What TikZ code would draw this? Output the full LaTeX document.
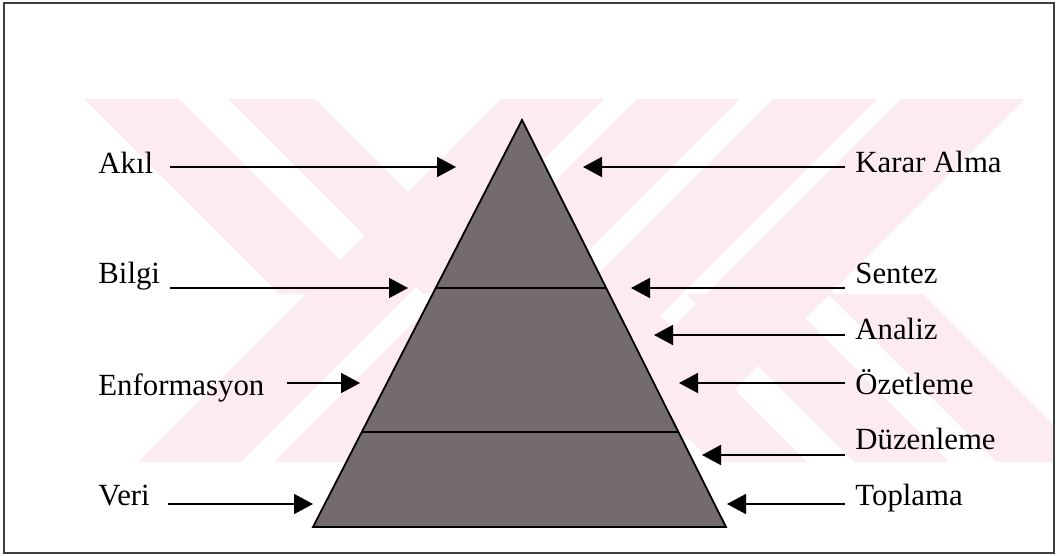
\documentclass[tikz,border=0pt]{standalone}
\usepackage{fontspec}
\setmainfont{Liberation Serif}
\usetikzlibrary{arrows.meta,calc}
\definecolor{wmpink}{RGB}{253,236,239}
\definecolor{pyrgray}{RGB}{116,107,110}
\tikzset{
  lbl/.style={anchor=base west, inner sep=0pt, font=\fontsize{15.4}{18}\selectfont},
  arr/.style={line width=0.85pt, -{Triangle[length=9.5pt,width=10pt]}},
}
\begin{document}
\begin{tikzpicture}[x=0.5pt,y=-0.5pt]
\useasboundingbox (0,0) rectangle (1061,556);
% watermark
\begin{scope}
\clip (0,99) rectangle (1053,462);
\foreach \a/\b in {600/703,736/839,872/976,1000/1124}
  \fill[wmpink] (\a-99,99) -- (\b-99,99) -- (\b-462,462) -- (\a-462,462) -- cycle;
\foreach \a/\b in {-15/80,129/216}
  \fill[wmpink] (\a+99,99) -- (\b+99,99) -- (\b+294,294) -- (\a+294,294) -- cycle;
\foreach \a/\b in {250/345,392/487,534/629}
  \fill[wmpink] (\a+294,294) -- (\b+294,294) -- (\b+462,462) -- (\a+462,462) -- cycle;
\end{scope}
\draw[line width=0.8pt, black!75] (4,3) rectangle (1054,553);

% pyramid
\coordinate (apex) at (522,120);
\coordinate (bl) at (313,527);
\coordinate (br) at (726,527);
\draw[fill=pyrgray, line width=0.9pt] (apex) -- (bl) -- (br) -- cycle;
\draw[line width=0.7pt] ($(apex)!0.4128!(bl)$) -- ($(apex)!0.4128!(br)$);
\draw[line width=0.7pt] ($(apex)!0.7666!(bl)$) -- ($(apex)!0.7666!(br)$);

\node[lbl] (akil) at (98,174) {Akıl};
\node[lbl] (bilgi) at (98,284) {Bilgi};
\node[lbl] (enf) at (98,395) {Enformasyon};
\node[lbl] (veri) at (98,505) {Veri};
\node[lbl] (karar) at (855,173) {Karar Alma};
\node[lbl] (sentez) at (855,284) {Sentez};
\node[lbl] (analiz) at (855,339) {Analiz};
\node[lbl] (ozet) at (855,394) {Özetleme};
\node[lbl] (duzen) at (855,449) {Düzenleme};
\node[lbl] (topla) at (855,505) {Toplama};

\coordinate (tAkil) at (456,167);
\coordinate (tBilgi) at (408,288);
\coordinate (tEnf) at (360,383);
\coordinate (tVeri) at (313,504);
\coordinate (tKarar) at (583,167);
\coordinate (tSentez) at (631,288);
\coordinate (tAnaliz) at (654,335);
\coordinate (tOzet) at (679,383);
\coordinate (tDuzen) at (702,455);
\coordinate (tTopla) at (727,504);

\draw[arr, shorten <=8pt] (akil.east |- tAkil) -- (tAkil);
\draw[arr, shorten <=5pt] (bilgi.east |- tBilgi) -- (tBilgi);
\draw[arr, shorten <=11pt] (enf.east |- tEnf) -- (tEnf);
\draw[arr, shorten <=9pt] (veri.east |- tVeri) -- (tVeri);
\draw[arr, shorten <=5pt] (karar.west |- tKarar) -- (tKarar);
\draw[arr, shorten <=5pt] (sentez.west |- tSentez) -- (tSentez);
\draw[arr, shorten <=5pt] (analiz.west |- tAnaliz) -- (tAnaliz);
\draw[arr, shorten <=5pt] (ozet.west |- tOzet) -- (tOzet);
\draw[arr, shorten <=5pt] (duzen.west |- tDuzen) -- (tDuzen);
\draw[arr, shorten <=5pt] (topla.west |- tTopla) -- (tTopla);
\end{tikzpicture}
\end{document}
